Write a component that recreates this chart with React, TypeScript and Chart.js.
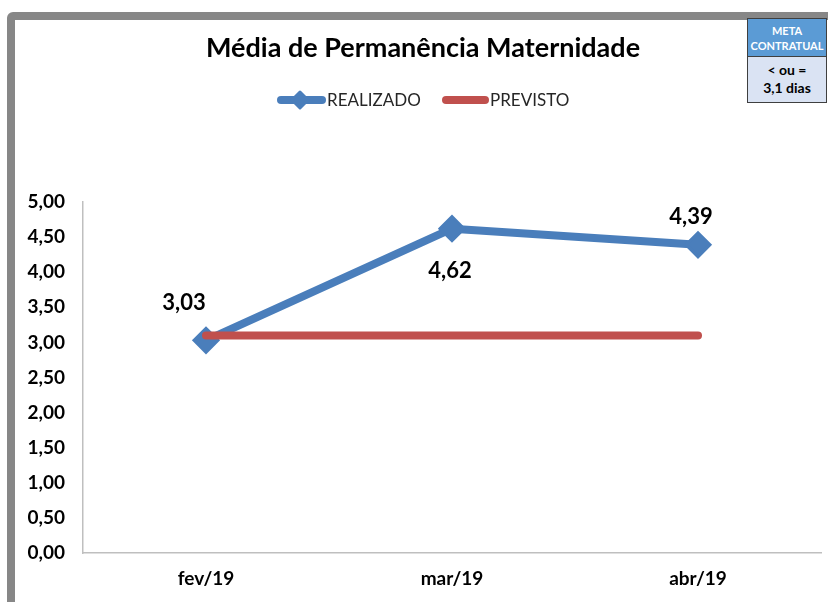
import React, { useEffect, useRef } from "react";
import { Chart, registerables } from "chart.js";

Chart.register(...registerables);

const TITLE = "Média de Permanência Maternidade";
const CATEGORIES = ["fev/19", "mar/19", "abr/19"];
const REALIZADO = [3.03, 4.62, 4.39];
const PREVISTO = [3.1, 3.1, 3.1];
const SERIES_NAMES = ["REALIZADO", "PREVISTO"];
const Y_MIN = 0;
const Y_MAX = 5;
const Y_STEP = 0.5;
const META_HEAD = ["META", "CONTRATUAL"];
const META_BODY = ["< ou =", "3,1 dias"];

const BLUE = "#4A7EBB";
const RED = "#C0504D";
const FONT = "Lato, 'Noto Sans', sans-serif";
const CANVAS_W = 836;
const CANVAS_H = 602;

const fmt = (v: number, d: number) => v.toFixed(d).replace(".", ",");

// per-point label offsets (dx, dy) relative to the point
const LABEL_OFFSETS: [number, number][] = [
  [-22, -37],
  [-2, 42],
  [-7, -28],
];

function drawDiamond(ctx: CanvasRenderingContext2D, x: number, y: number, r: number, color: string) {
  ctx.save();
  ctx.fillStyle = color;
  ctx.strokeStyle = color;
  ctx.lineWidth = 3;
  ctx.lineJoin = "round";
  ctx.beginPath();
  ctx.moveTo(x, y - r);
  ctx.lineTo(x + r, y);
  ctx.lineTo(x, y + r);
  ctx.lineTo(x - r, y);
  ctx.closePath();
  ctx.fill();
  ctx.stroke();
  ctx.restore();
}

const decorPlugin = {
  id: "decor",
  afterDraw(chart: any) {
    const ctx: CanvasRenderingContext2D = chart.ctx;
    ctx.save();
    // title
    ctx.fillStyle = "#000";
    ctx.font = `bold 27px ${FONT}`;
    ctx.textAlign = "center";
    ctx.textBaseline = "middle";
    ctx.fillText(TITLE, 423, 48);

    // legend
    ctx.lineCap = "round";
    ctx.lineWidth = 8;
    ctx.strokeStyle = BLUE;
    ctx.beginPath();
    ctx.moveTo(281, 100);
    ctx.lineTo(322, 100);
    ctx.stroke();
    drawDiamond(ctx, 300, 100, 8, BLUE);
    ctx.strokeStyle = RED;
    ctx.beginPath();
    ctx.moveTo(446, 100);
    ctx.lineTo(485, 100);
    ctx.stroke();
    ctx.fillStyle = "#262626";
    ctx.font = `17px ${FONT}`;
    ctx.textAlign = "left";
    ctx.fillText(SERIES_NAMES[0], 327, 101);
    ctx.fillText(SERIES_NAMES[1], 490, 101);

    // data labels
    const meta = chart.getDatasetMeta(1);
    ctx.fillStyle = "#000";
    ctx.font = `bold 22px ${FONT}`;
    ctx.textAlign = "center";
    meta.data.forEach((pt: any, i: number) => {
      const [dx, dy] = LABEL_OFFSETS[i] || [0, -30];
      ctx.fillText(fmt(REALIZADO[i], 2), pt.x + dx, pt.y + dy);
    });
    ctx.restore();
  },
};

export default function App() {
  const ref = useRef<HTMLCanvasElement | null>(null);

  useEffect(() => {
    if (!ref.current) return;
    const chart = new Chart(ref.current, {
      type: "line",
      data: {
        labels: CATEGORIES,
        datasets: [
          {
            label: SERIES_NAMES[1],
            data: PREVISTO,
            borderColor: RED,
            backgroundColor: RED,
            borderWidth: 8,
            borderCapStyle: "round",
            pointRadius: 0,
            pointHoverRadius: 0,
            order: 0,
          },
          {
            label: SERIES_NAMES[0],
            data: REALIZADO,
            borderColor: BLUE,
            backgroundColor: BLUE,
            borderWidth: 8,
            borderCapStyle: "round",
            borderJoinStyle: "round",
            pointStyle: "rectRot",
            pointRadius: 12,
            pointBorderWidth: 3,
            pointBorderColor: BLUE,
            pointBackgroundColor: BLUE,
            order: 1,
          },
        ],
      },
      options: {
        responsive: false,
        animation: false,
        events: [],
        layout: { padding: { top: 202, right: 0, left: 0, bottom: 0 } },
        plugins: {
          legend: { display: false },
          title: { display: false },
          tooltip: { enabled: false },
        },
        scales: {
          x: {
            offset: true,
            grid: { display: false, drawTicks: false, tickLength: 0 },
            border: { display: true, color: "#BFBFBF", width: 1.5 },
            ticks: {
              color: "#000",
              font: { family: FONT, size: 19, weight: "bold" },
              padding: 14,
              maxRotation: 0,
            },
            afterFit: (s: any) => {
              s.height = 49;
            },
          },
          y: {
            min: Y_MIN,
            max: Y_MAX,
            grid: { display: false, drawTicks: false, tickLength: 0 },
            border: { display: true, color: "#BFBFBF", width: 1.5 },
            ticks: {
              stepSize: Y_STEP,
              color: "#000",
              font: { family: FONT, size: 19, weight: "bold" },
              padding: 18,
              callback: (v: any) => fmt(Number(v), 2),
            },
            afterFit: (s: any) => {
              s.width = 83;
            },
          },
        },
      },
      plugins: [decorPlugin],
    });
    return () => chart.destroy();
  }, []);

  return (
    <div
      style={{
        position: "absolute",
        left: 0,
        top: 0,
        width: 828,
        height: 602,
        overflow: "hidden",
        background: "#fff",
        fontFamily: FONT,
      }}
    >
      <div
        style={{
          position: "absolute",
          left: 7,
          top: 12,
          width: 900,
          height: 700,
          border: "8px solid #878787",
          borderRadius: 6,
          background: "#fff",
        }}
      />
      <canvas
        ref={ref}
        width={CANVAS_W}
        height={CANVAS_H}
        style={{ position: "absolute", left: 0, top: 0, width: CANVAS_W, height: CANVAS_H }}
      />
      <div
        style={{
          position: "absolute",
          left: 747,
          top: 18,
          width: 80,
          height: 85,
          border: "1px solid #3F3F3F",
          boxSizing: "border-box",
          fontWeight: "bold",
          textAlign: "center",
        }}
      >
        <div
          style={{
            height: 38,
            background: "#5B9BD5",
            color: "#fff",
            fontSize: 11,
            lineHeight: "15px",
            paddingTop: 4,
            boxSizing: "border-box",
            borderBottom: "1px solid #3F3F3F",
          }}
        >
          {META_HEAD.map((t) => (
            <div key={t}>{t}</div>
          ))}
        </div>
        <div
          style={{
            height: 45,
            background: "#DAE3F3",
            color: "#000",
            fontSize: 14,
            lineHeight: "18px",
            paddingTop: 4,
            boxSizing: "border-box",
          }}
        >
          {META_BODY.map((t) => (
            <div key={t}>{t}</div>
          ))}
        </div>
      </div>
    </div>
  );
}
